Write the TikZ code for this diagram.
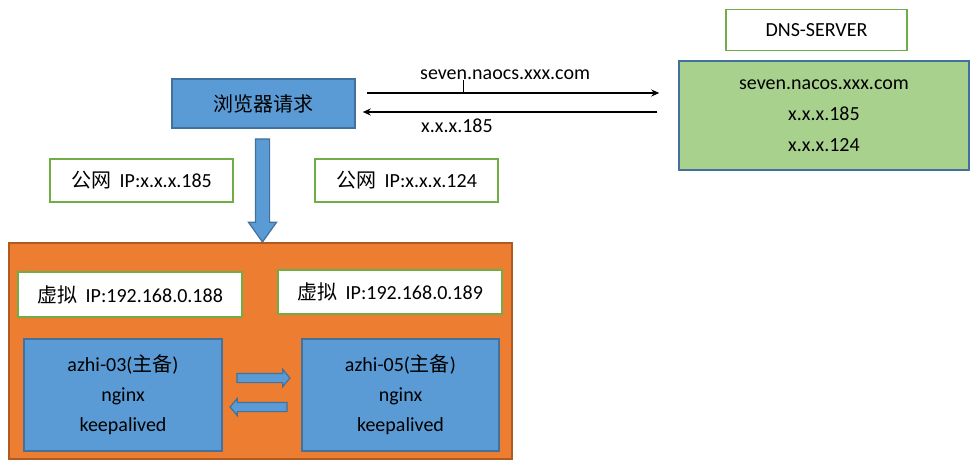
\documentclass[tikz,border=0pt]{standalone}
\usepackage{fontspec}
\setmainfont{Carlito}
\newfontfamily\cjk{Noto Sans CJK SC}
\usetikzlibrary{shapes.arrows,arrows.meta}
\definecolor{boxblue}{HTML}{5B9BD5}
\definecolor{edgeblue}{HTML}{41719C}
\definecolor{taggreen}{HTML}{70AD47}
\definecolor{dnsgreen}{HTML}{A9D18E}
\definecolor{clusterorange}{HTML}{ED7D31}
\definecolor{edgeorange}{HTML}{AE5A21}
\newcommand{\zh}[1]{{\cjk #1}\kern4pt\ }

\begin{document}
\begin{tikzpicture}[x=1pt, y=1pt,
  txt/.style={font=\fontsize{20}{24}\selectfont, inner sep=0pt},
  tag/.style={txt, draw=taggreen, line width=1.5pt, fill=white},
  host/.style={txt, draw=edgeblue, line width=1.5pt, fill=boxblue, align=center},
  blockarrow/.style={single arrow, draw=edgeblue, line width=1.2pt, fill=boxblue,
    inner sep=4pt, single arrow head extend=4pt, single arrow tip angle=100},
  request/.style={-{Stealth[length=8pt,width=7pt]}, line width=1.3pt}]
\useasboundingbox (0,0) rectangle (980,-469);

% dns side
\node[tag, minimum width=181pt, minimum height=41pt] (dnslabel) at (816.5,-30) {DNS-SERVER};
\node[host, fill=dnsgreen, font=\fontsize{20}{31}\selectfont,
  minimum width=290pt, minimum height=109pt] (dns) at (824,-115.5)
  {seven.nacos.xxx.com\\x.x.x.185\\x.x.x.124};

% browser and lookup
\node[host, minimum width=183pt, minimum height=49pt] (browser) at (263.5,-103.5) {{\cjk 浏览器请求}};
\coordinate (go) at ([yshift=10.5pt]browser.east);
\coordinate (back) at ([yshift=-8.5pt]browser.east);
\draw[request, shorten <=11pt, shorten >=19pt] (go) -- (go -| dns.west);
\draw[request, shorten <=21pt, shorten >=7pt] (back -| dns.west) -- (back);
\node[txt, anchor=west] (golabel) at (420,-75) {seven.naocs.xxx.com};
\node[txt, anchor=west] (backlabel) at (421,-126) {x.x.x.185};
\coordinate (cursor) at (463,-80);
\draw[line width=1pt] (cursor) -- (cursor |- go);

% public ips
\node[tag, minimum width=183pt, minimum height=43pt] (pub185) at (141.5,-180.5) {\zh{公网}IP:x.x.x.185};
\node[tag, minimum width=183pt, minimum height=43pt] (pub124) at (406.5,-180.5) {\zh{公网}IP:x.x.x.124};

% cluster
\node[draw=edgeorange, fill=clusterorange, line width=1.5pt,
  minimum width=503pt, minimum height=216pt] (cluster) at (260.5,-351) {};
\node[blockarrow, inner sep=6.5pt, single arrow head extend=7pt, single arrow tip angle=71,
  minimum height=103pt, shape border rotate=270] (down) at (262.5,-185.5) {};
\node[tag, minimum width=224pt, minimum height=45pt] (vip188) at (130,-294.5) {\zh{虚拟}IP:192.168.0.188};
\node[tag, minimum width=224pt, minimum height=44pt] (vip189) at (390,-292) {\zh{虚拟}IP:192.168.0.189};
\node[host, font=\fontsize{20}{30}\selectfont, minimum width=198pt, minimum height=112pt] (azhi03)
  at (123,-395) {azhi-03({\cjk 主备})\\nginx\\keepalived};
\node[host, font=\fontsize{20}{30}\selectfont, minimum width=197pt, minimum height=112pt] (azhi05)
  at (400.5,-395) {azhi-05({\cjk 主备})\\nginx\\keepalived};
\node[blockarrow, minimum height=53pt] (sync) at (261.5,-378) {};
\node[blockarrow, minimum height=57pt, shape border rotate=180] (syncback) at (260.5,-407) {};
\end{tikzpicture}
\end{document}
